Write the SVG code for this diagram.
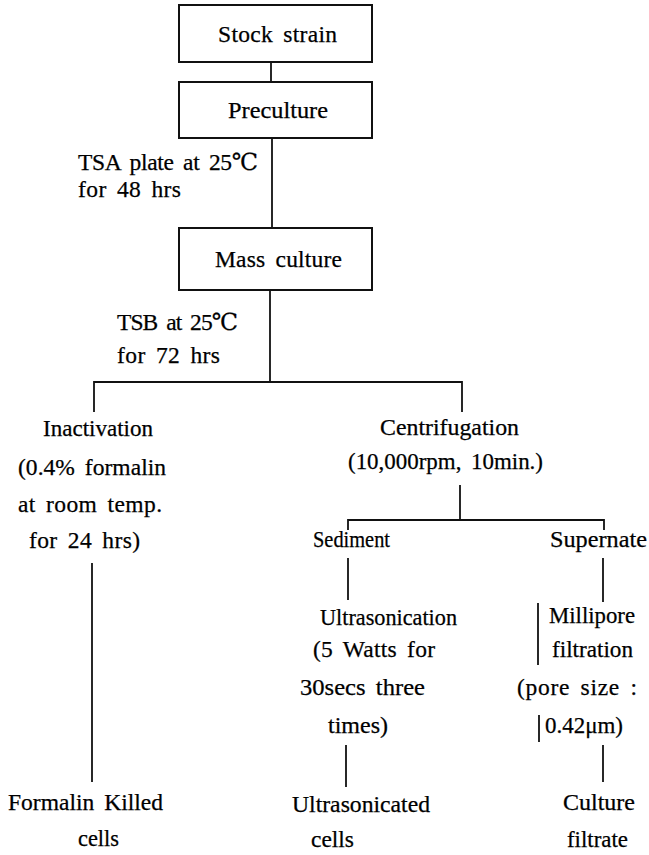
<svg xmlns="http://www.w3.org/2000/svg" width="649" height="855" viewBox="0 0 649 855">
<style>
.box{fill:#fff;stroke:#111;stroke-width:2}
.ln{stroke:#111;stroke-width:1.8;fill:none}
text{font-family:"Liberation Serif","DejaVu Serif",serif;font-size:23.5px;fill:#000;word-spacing:4px;stroke:#000;stroke-width:0.25}
</style>
<rect width="649" height="855" fill="#fff"/>
<g id="connectors">
<line class="ln" x1="271" y1="62" x2="271" y2="82"/>
<line class="ln" x1="272" y1="138" x2="272" y2="228"/>
<line class="ln" x1="270" y1="290" x2="270" y2="382"/>
<polyline class="ln" points="94,412 94,382 462,382 462,412"/>
<line class="ln" x1="460" y1="485" x2="460" y2="520"/>
<polyline class="ln" points="348,530 348,520 604,520 604,530"/>
<line class="ln" x1="348" y1="558" x2="348" y2="600"/>
<line class="ln" x1="603" y1="558" x2="603" y2="602"/>
<line class="ln" x1="538" y1="603" x2="538" y2="665"/>
<line class="ln" x1="539" y1="715" x2="539" y2="742"/>
<line class="ln" x1="603" y1="745" x2="603" y2="782"/>
<line class="ln" x1="346" y1="745" x2="346" y2="787"/>
<line class="ln" x1="92" y1="563" x2="92" y2="782"/>
</g>
<g id="stock">
<rect class="box" x="179" y="5" width="193" height="57"/>
<text x="218" y="42" textLength="119">Stock strain</text>
</g>
<g id="preculture">
<rect class="box" x="179" y="82" width="193" height="56"/>
<text x="228" y="118" textLength="100" lengthAdjust="spacingAndGlyphs">Preculture</text>
</g>
<g id="tsa">
<text x="78" y="170" textLength="180">TSA plate at 25℃</text>
<text x="78" y="197" textLength="103">for 48 hrs</text>
</g>
<g id="mass">
<rect class="box" x="179" y="228" width="193" height="62"/>
<text x="215" y="267" textLength="127">Mass culture</text>
</g>
<g id="tsb">
<text x="117" y="330" textLength="121">TSB at 25℃</text>
<text x="117" y="363" textLength="103">for 72 hrs</text>
</g>
<g id="inactivation">
<text x="43" y="436" textLength="110" lengthAdjust="spacingAndGlyphs">Inactivation</text>
<text x="18" y="475" textLength="148">(0.4% formalin</text>
<text x="18" y="512" textLength="144">at room temp.</text>
<text x="29" y="548" textLength="111">for 24 hrs)</text>
</g>
<g id="centrifugation">
<text x="380" y="435" textLength="139" lengthAdjust="spacingAndGlyphs">Centrifugation</text>
<text x="348" y="469" textLength="195" lengthAdjust="spacingAndGlyphs">(10,000rpm, 10min.)</text>
</g>
<g id="sediment">
<text x="313" y="547" textLength="77" lengthAdjust="spacingAndGlyphs">Sediment</text>
</g>
<g id="supernate">
<text x="550" y="547" textLength="97" lengthAdjust="spacingAndGlyphs">Supernate</text>
</g>
<g id="ultrasonication">
<text x="320" y="625" textLength="137" lengthAdjust="spacingAndGlyphs">Ultrasonication</text>
<text x="313" y="657" textLength="122">(5 Watts for</text>
<text x="300" y="695" textLength="125" lengthAdjust="spacingAndGlyphs">30secs three</text>
<text x="328" y="733" textLength="60" lengthAdjust="spacingAndGlyphs">times)</text>
</g>
<g id="millipore">
<text x="549" y="623" textLength="86" lengthAdjust="spacingAndGlyphs">Millipore</text>
<text x="552" y="657" textLength="81" lengthAdjust="spacingAndGlyphs">filtration</text>
<text x="517" y="695" textLength="120">(pore size :</text>
<text x="545" y="733" textLength="78" lengthAdjust="spacingAndGlyphs">0.42μm)</text>
</g>
<g id="formalin-killed">
<text x="8" y="810" textLength="155">Formalin Killed</text>
<text x="78" y="846" textLength="41" lengthAdjust="spacingAndGlyphs">cells</text>
</g>
<g id="ultrasonicated">
<text x="292" y="812" textLength="138" lengthAdjust="spacingAndGlyphs">Ultrasonicated</text>
<text x="311" y="847" textLength="43" lengthAdjust="spacingAndGlyphs">cells</text>
</g>
<g id="filtrate">
<text x="563" y="810" textLength="72" lengthAdjust="spacingAndGlyphs">Culture</text>
<text x="567" y="847" textLength="61" lengthAdjust="spacingAndGlyphs">filtrate</text>
</g>
</svg>
